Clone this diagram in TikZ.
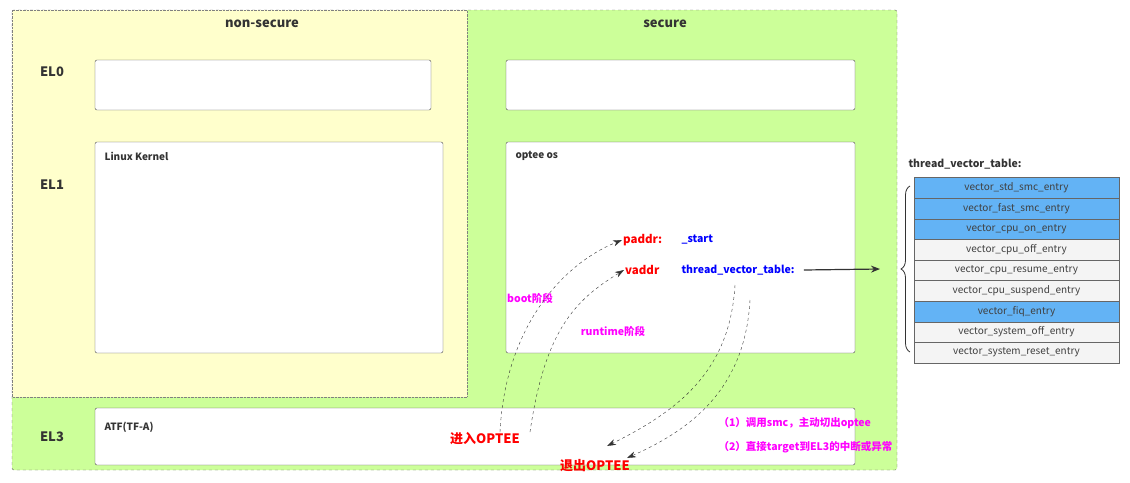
\documentclass[tikz,border=0pt]{standalone}
\usepackage{fontspec}
\setmainfont{Noto Sans CJK SC}
\usetikzlibrary{decorations.pathreplacing,arrows.meta}
\definecolor{ylw}{HTML}{FFFFCC}
\definecolor{grn}{HTML}{CCFF99}
\definecolor{blu}{HTML}{63B3F5}
\definecolor{gry}{HTML}{F4F4F4}
\definecolor{mag}{HTML}{FF00FF}
\begin{document}
\begin{tikzpicture}[x=1pt,y=-1pt,
 box/.style={draw=black!70,fill=white,rounded corners=2pt},
 lbl/.style={font=\fontsize{10}{12}\selectfont\bfseries,text=black!80},
 big/.style={font=\fontsize{13}{15}\selectfont\bfseries,text=black!80},
 row/.style={draw=black!60,minimum width=205pt,minimum height=20.6pt,inner sep=0pt,font=\fontsize{10}{12}\selectfont,text=black!75},
 dsh/.style={dashed,black!80,-{Stealth[length=9pt,width=6pt]}},
 red/.style={text=red,font=\fontsize{11.5}{13}\selectfont\bfseries},
 bl/.style={text=blue,font=\fontsize{10.5}{13}\selectfont\bfseries},
 mg/.style={text=mag,font=\fontsize{10.5}{13}\selectfont\bfseries}]
\useasboundingbox (0,0) rectangle (1130,482);
\draw[black!60,dashed,fill=grn,rounded corners=2pt] (12,10) rectangle (897,470);
\draw[black!50,densely dotted,fill=ylw] (12,10) rectangle (467,397);
\node[big] (ns) at (262,24) {non-secure};
\node[big] (s) at (665,24) {secure};
\node[big] (e0) at (52,72) {EL0};
\node[big] (e1) at (52,185) {EL1};
\node[big] (e3) at (52,437) {EL3};
\draw[box] (95,60) rectangle (431,110);
\draw[box] (506,60) rectangle (855,110);
\draw[box] (95,142) rectangle (443,353);
\draw[box] (506,142) rectangle (855,353);
\draw[box] (95,408) rectangle (855,465);
\node[lbl,anchor=west] (lk) at (101,156) {Linux Kernel};
\node[lbl,anchor=west] (oo) at (512,156) {optee os};
\node[lbl,anchor=west] (atf) at (101,427) {ATF(TF-A)};
\node[red,anchor=west,inner sep=1pt] (pa) at (622,240) {paddr:};
\node[bl,anchor=west] (st) at (678,240) {\_start};
\node[red,anchor=west,inner sep=1pt] (va) at (624,270) {vaddr};
\node[bl,anchor=west] (tvt) at (678,270) {thread\_vector\_table:};
\node[mg] (boot) at (530,298) {boot阶段};
\node[mg] (rt) at (613,331) {runtime阶段};
\node[red,font=\fontsize{13}{15}\selectfont\bfseries] (in) at (485,439) {进入OPTEE};
\node[red,font=\fontsize{13}{15}\selectfont\bfseries] (out) at (595,466) {退出OPTEE};
\node[mg,anchor=west] (n1) at (715,423) {（1）调用smc，主动切出optee};
\node[mg,anchor=west] (n2) at (715,447) {（2）直接target到EL3的中断或异常};
\node[lbl,font=\fontsize{10.5}{12}\selectfont\bfseries,anchor=west] (tt) at (905,164) {thread\_vector\_table:};
\foreach \t/\c [count=\i] in {vector\_std\_smc\_entry/blu,vector\_fast\_smc\_entry/blu,vector\_cpu\_on\_entry/blu,vector\_cpu\_off\_entry/gry,vector\_cpu\_resume\_entry/gry,vector\_cpu\_suspend\_entry/gry,vector\_fiq\_entry/blu,vector\_system\_off\_entry/gry,vector\_system\_reset\_entry/gry}
  \node[row,fill=\c] (r\i) at (1016.5,{177.5+20.6*(\i-0.5)}) {\t};
\draw[black!80,thick,decorate,decoration={brace,amplitude=9pt}] (910,352) -- (910,186);
\coordinate (bt) at (880,269);
\draw[very thick,black!80,-{Stealth[length=9pt,width=7pt]}] (tvt.east) ++(6,0) -- (bt);
\draw[dsh] (500,432) .. controls (505,330) and (560,265) .. (pa.west);
\draw[dsh] (530,432) .. controls (545,330) and (575,300) .. (va.west);
\draw[dsh] (735,285) .. controls (730,370) and (680,410) .. (607,446);
\draw[dsh] (750,300) .. controls (745,390) and (690,430) .. (627,458);
\end{tikzpicture}
\end{document}
